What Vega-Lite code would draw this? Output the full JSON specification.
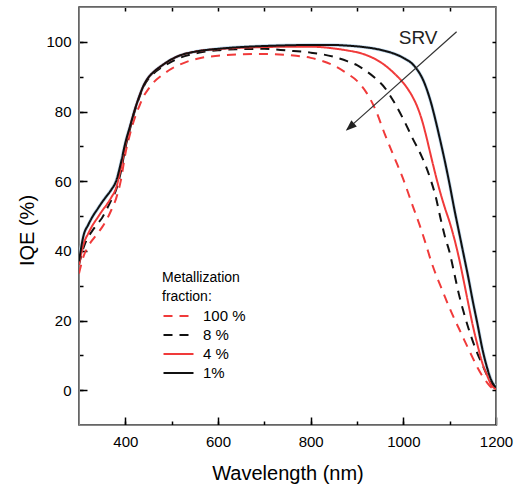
{
  "$schema": "https://vega.github.io/schema/vega-lite/v6.json",
  "width": 417,
  "height": 418,
  "autosize": "none",
  "padding": {"left": 79, "top": 7, "right": 30, "bottom": 60},
  "background": "white",
  "config": {
    "font": "Liberation Sans",
    "view": {"stroke": "#333333", "strokeWidth": 1.5},
    "axis": {"labelFontSize": 15, "labelFlush": false, "labelOverlap": false, "titleFontSize": 20, "titleFontWeight": "normal"}
  },
  "datasets": {
    "iqe": [
      {"m": "100 %", "wl": 300, "iqe": 33.5}, {"m": "100 %", "wl": 310, "iqe": 38.5}, {"m": "100 %", "wl": 320, "iqe": 41.3}, {"m": "100 %", "wl": 330, "iqe": 43.3},
      {"m": "100 %", "wl": 340, "iqe": 45}, {"m": "100 %", "wl": 350, "iqe": 46.8}, {"m": "100 %", "wl": 360, "iqe": 49}, {"m": "100 %", "wl": 370, "iqe": 51.8},
      {"m": "100 %", "wl": 380, "iqe": 55}, {"m": "100 %", "wl": 390, "iqe": 60}, {"m": "100 %", "wl": 400, "iqe": 67.8}, {"m": "100 %", "wl": 410, "iqe": 73.5},
      {"m": "100 %", "wl": 420, "iqe": 78}, {"m": "100 %", "wl": 430, "iqe": 81.5}, {"m": "100 %", "wl": 440, "iqe": 84.5}, {"m": "100 %", "wl": 450, "iqe": 86.5},
      {"m": "100 %", "wl": 460, "iqe": 88.2}, {"m": "100 %", "wl": 480, "iqe": 90.5}, {"m": "100 %", "wl": 500, "iqe": 92.3}, {"m": "100 %", "wl": 520, "iqe": 93.6},
      {"m": "100 %", "wl": 540, "iqe": 94.6}, {"m": "100 %", "wl": 560, "iqe": 95.3}, {"m": "100 %", "wl": 600, "iqe": 96}, {"m": "100 %", "wl": 650, "iqe": 96.4},
      {"m": "100 %", "wl": 700, "iqe": 96.5}, {"m": "100 %", "wl": 750, "iqe": 96.2}, {"m": "100 %", "wl": 800, "iqe": 95.4}, {"m": "100 %", "wl": 850, "iqe": 93.2},
      {"m": "100 %", "wl": 880, "iqe": 90.8}, {"m": "100 %", "wl": 900, "iqe": 88.8}, {"m": "100 %", "wl": 920, "iqe": 85.5}, {"m": "100 %", "wl": 940, "iqe": 80.5},
      {"m": "100 %", "wl": 960, "iqe": 73.5}, {"m": "100 %", "wl": 980, "iqe": 67}, {"m": "100 %", "wl": 1000, "iqe": 60.5}, {"m": "100 %", "wl": 1020, "iqe": 53},
      {"m": "100 %", "wl": 1040, "iqe": 45.5}, {"m": "100 %", "wl": 1050, "iqe": 41.3}, {"m": "100 %", "wl": 1060, "iqe": 37}, {"m": "100 %", "wl": 1070, "iqe": 33.3},
      {"m": "100 %", "wl": 1080, "iqe": 30}, {"m": "100 %", "wl": 1090, "iqe": 26.7}, {"m": "100 %", "wl": 1100, "iqe": 23.5}, {"m": "100 %", "wl": 1110, "iqe": 20.5},
      {"m": "100 %", "wl": 1120, "iqe": 17.7}, {"m": "100 %", "wl": 1130, "iqe": 14.8}, {"m": "100 %", "wl": 1140, "iqe": 12}, {"m": "100 %", "wl": 1150, "iqe": 9.2},
      {"m": "100 %", "wl": 1160, "iqe": 6.5}, {"m": "100 %", "wl": 1170, "iqe": 4.2}, {"m": "100 %", "wl": 1180, "iqe": 2.3}, {"m": "100 %", "wl": 1190, "iqe": 0.8},
      {"m": "100 %", "wl": 1200, "iqe": 0.3},

      {"m": "8 %", "wl": 300, "iqe": 36}, {"m": "8 %", "wl": 310, "iqe": 41}, {"m": "8 %", "wl": 320, "iqe": 44}, {"m": "8 %", "wl": 330, "iqe": 46},
      {"m": "8 %", "wl": 340, "iqe": 47.8}, {"m": "8 %", "wl": 350, "iqe": 49.5}, {"m": "8 %", "wl": 360, "iqe": 52}, {"m": "8 %", "wl": 370, "iqe": 54.6},
      {"m": "8 %", "wl": 380, "iqe": 57.5}, {"m": "8 %", "wl": 390, "iqe": 62.5}, {"m": "8 %", "wl": 400, "iqe": 69.5}, {"m": "8 %", "wl": 410, "iqe": 75},
      {"m": "8 %", "wl": 420, "iqe": 80}, {"m": "8 %", "wl": 430, "iqe": 84}, {"m": "8 %", "wl": 440, "iqe": 87.3}, {"m": "8 %", "wl": 450, "iqe": 89.4},
      {"m": "8 %", "wl": 460, "iqe": 90.8}, {"m": "8 %", "wl": 480, "iqe": 92.8}, {"m": "8 %", "wl": 500, "iqe": 94.3}, {"m": "8 %", "wl": 520, "iqe": 95.5},
      {"m": "8 %", "wl": 540, "iqe": 96.3}, {"m": "8 %", "wl": 560, "iqe": 96.9}, {"m": "8 %", "wl": 600, "iqe": 97.6}, {"m": "8 %", "wl": 650, "iqe": 97.9},
      {"m": "8 %", "wl": 700, "iqe": 98}, {"m": "8 %", "wl": 750, "iqe": 97.5}, {"m": "8 %", "wl": 800, "iqe": 96.9}, {"m": "8 %", "wl": 850, "iqe": 95.7},
      {"m": "8 %", "wl": 880, "iqe": 94.4}, {"m": "8 %", "wl": 900, "iqe": 93.3}, {"m": "8 %", "wl": 920, "iqe": 91.6}, {"m": "8 %", "wl": 940, "iqe": 89.5},
      {"m": "8 %", "wl": 960, "iqe": 86.8}, {"m": "8 %", "wl": 980, "iqe": 82.7}, {"m": "8 %", "wl": 1000, "iqe": 77.8}, {"m": "8 %", "wl": 1020, "iqe": 72.3},
      {"m": "8 %", "wl": 1040, "iqe": 67}, {"m": "8 %", "wl": 1050, "iqe": 63.8}, {"m": "8 %", "wl": 1060, "iqe": 60}, {"m": "8 %", "wl": 1070, "iqe": 55.5},
      {"m": "8 %", "wl": 1080, "iqe": 49.5}, {"m": "8 %", "wl": 1090, "iqe": 44}, {"m": "8 %", "wl": 1100, "iqe": 39.5}, {"m": "8 %", "wl": 1110, "iqe": 33.5},
      {"m": "8 %", "wl": 1120, "iqe": 27.5}, {"m": "8 %", "wl": 1130, "iqe": 22.5}, {"m": "8 %", "wl": 1140, "iqe": 18}, {"m": "8 %", "wl": 1150, "iqe": 14},
      {"m": "8 %", "wl": 1160, "iqe": 10.5}, {"m": "8 %", "wl": 1170, "iqe": 7.5}, {"m": "8 %", "wl": 1180, "iqe": 4.5}, {"m": "8 %", "wl": 1190, "iqe": 1.8},
      {"m": "8 %", "wl": 1200, "iqe": 0.5},

      {"m": "4 %", "wl": 300, "iqe": 36}, {"m": "4 %", "wl": 310, "iqe": 42}, {"m": "4 %", "wl": 320, "iqe": 45}, {"m": "4 %", "wl": 330, "iqe": 47.5},
      {"m": "4 %", "wl": 340, "iqe": 49.5}, {"m": "4 %", "wl": 350, "iqe": 51.5}, {"m": "4 %", "wl": 360, "iqe": 53.3}, {"m": "4 %", "wl": 370, "iqe": 55.4},
      {"m": "4 %", "wl": 380, "iqe": 58}, {"m": "4 %", "wl": 390, "iqe": 63.5}, {"m": "4 %", "wl": 400, "iqe": 70.3}, {"m": "4 %", "wl": 410, "iqe": 75.5},
      {"m": "4 %", "wl": 420, "iqe": 80.3}, {"m": "4 %", "wl": 430, "iqe": 84.3}, {"m": "4 %", "wl": 440, "iqe": 87.6}, {"m": "4 %", "wl": 450, "iqe": 89.8},
      {"m": "4 %", "wl": 460, "iqe": 91.2}, {"m": "4 %", "wl": 480, "iqe": 93.3}, {"m": "4 %", "wl": 500, "iqe": 95}, {"m": "4 %", "wl": 520, "iqe": 96.2},
      {"m": "4 %", "wl": 540, "iqe": 96.9}, {"m": "4 %", "wl": 560, "iqe": 97.4}, {"m": "4 %", "wl": 600, "iqe": 97.9}, {"m": "4 %", "wl": 650, "iqe": 98.3},
      {"m": "4 %", "wl": 700, "iqe": 98.5}, {"m": "4 %", "wl": 750, "iqe": 98.6}, {"m": "4 %", "wl": 800, "iqe": 98.6}, {"m": "4 %", "wl": 850, "iqe": 98.1},
      {"m": "4 %", "wl": 880, "iqe": 97.5}, {"m": "4 %", "wl": 900, "iqe": 97}, {"m": "4 %", "wl": 920, "iqe": 96.2}, {"m": "4 %", "wl": 940, "iqe": 95},
      {"m": "4 %", "wl": 960, "iqe": 93.3}, {"m": "4 %", "wl": 980, "iqe": 91}, {"m": "4 %", "wl": 1000, "iqe": 88.2}, {"m": "4 %", "wl": 1010, "iqe": 86.4},
      {"m": "4 %", "wl": 1020, "iqe": 84.2}, {"m": "4 %", "wl": 1030, "iqe": 81.4}, {"m": "4 %", "wl": 1040, "iqe": 77.6}, {"m": "4 %", "wl": 1050, "iqe": 72.6},
      {"m": "4 %", "wl": 1060, "iqe": 67}, {"m": "4 %", "wl": 1070, "iqe": 61.6},
      {"m": "4 %", "wl": 1080, "iqe": 56.6}, {"m": "4 %", "wl": 1090, "iqe": 52.2}, {"m": "4 %", "wl": 1100, "iqe": 48.2}, {"m": "4 %", "wl": 1110, "iqe": 43.5},
      {"m": "4 %", "wl": 1120, "iqe": 38}, {"m": "4 %", "wl": 1130, "iqe": 31.6}, {"m": "4 %", "wl": 1140, "iqe": 25}, {"m": "4 %", "wl": 1150, "iqe": 18.5},
      {"m": "4 %", "wl": 1160, "iqe": 13}, {"m": "4 %", "wl": 1170, "iqe": 8}, {"m": "4 %", "wl": 1180, "iqe": 4.5}, {"m": "4 %", "wl": 1190, "iqe": 1.5},
      {"m": "4 %", "wl": 1200, "iqe": 0.3},

      {"m": "1%", "wl": 300, "iqe": 37}, {"m": "1%", "wl": 310, "iqe": 44.5}, {"m": "1%", "wl": 320, "iqe": 47.5}, {"m": "1%", "wl": 330, "iqe": 50},
      {"m": "1%", "wl": 340, "iqe": 52}, {"m": "1%", "wl": 350, "iqe": 54}, {"m": "1%", "wl": 360, "iqe": 55.8}, {"m": "1%", "wl": 370, "iqe": 57.6},
      {"m": "1%", "wl": 380, "iqe": 60}, {"m": "1%", "wl": 390, "iqe": 65}, {"m": "1%", "wl": 400, "iqe": 71}, {"m": "1%", "wl": 410, "iqe": 75.7},
      {"m": "1%", "wl": 420, "iqe": 80.3}, {"m": "1%", "wl": 430, "iqe": 84.3}, {"m": "1%", "wl": 440, "iqe": 87.6}, {"m": "1%", "wl": 450, "iqe": 89.8},
      {"m": "1%", "wl": 460, "iqe": 91.2}, {"m": "1%", "wl": 480, "iqe": 93.3}, {"m": "1%", "wl": 500, "iqe": 95}, {"m": "1%", "wl": 520, "iqe": 96.2},
      {"m": "1%", "wl": 540, "iqe": 96.9}, {"m": "1%", "wl": 560, "iqe": 97.4}, {"m": "1%", "wl": 600, "iqe": 98}, {"m": "1%", "wl": 650, "iqe": 98.5},
      {"m": "1%", "wl": 700, "iqe": 98.8}, {"m": "1%", "wl": 750, "iqe": 99}, {"m": "1%", "wl": 800, "iqe": 99.1}, {"m": "1%", "wl": 850, "iqe": 99.1},
      {"m": "1%", "wl": 880, "iqe": 98.9}, {"m": "1%", "wl": 900, "iqe": 98.7}, {"m": "1%", "wl": 920, "iqe": 98.4}, {"m": "1%", "wl": 940, "iqe": 98},
      {"m": "1%", "wl": 960, "iqe": 97.4}, {"m": "1%", "wl": 980, "iqe": 96.6}, {"m": "1%", "wl": 1000, "iqe": 95.4}, {"m": "1%", "wl": 1020, "iqe": 93.6},
      {"m": "1%", "wl": 1030, "iqe": 92}, {"m": "1%", "wl": 1040, "iqe": 89.8}, {"m": "1%", "wl": 1050, "iqe": 86.6}, {"m": "1%", "wl": 1060, "iqe": 82.4},
      {"m": "1%", "wl": 1070, "iqe": 77.2},
      {"m": "1%", "wl": 1080, "iqe": 71.5}, {"m": "1%", "wl": 1090, "iqe": 65.5}, {"m": "1%", "wl": 1100, "iqe": 59}, {"m": "1%", "wl": 1110, "iqe": 52},
      {"m": "1%", "wl": 1120, "iqe": 45.5}, {"m": "1%", "wl": 1130, "iqe": 39}, {"m": "1%", "wl": 1140, "iqe": 32.5}, {"m": "1%", "wl": 1150, "iqe": 25.5},
      {"m": "1%", "wl": 1160, "iqe": 19}, {"m": "1%", "wl": 1170, "iqe": 12.2}, {"m": "1%", "wl": 1180, "iqe": 6.8}, {"m": "1%", "wl": 1190, "iqe": 2.8},
      {"m": "1%", "wl": 1200, "iqe": 0.8}
    ]
  },
  "layer": [
    {
      "description": "light halo under the 1% curve",
      "data": {"name": "iqe"},
      "transform": [{"filter": "datum.m === '1%'"}],
      "mark": {"type": "line", "interpolate": "monotone", "color": "#c3dcf0", "strokeWidth": 3.4, "clip": true},
      "encoding": {
        "x": {"field": "wl", "type": "quantitative", "scale": {"domain": [300, 1200], "nice": false, "zero": false}, "axis": null},
        "y": {"field": "iqe", "type": "quantitative", "scale": {"domain": [-10, 110], "nice": false, "zero": false}, "axis": null}
      }
    },
    {
      "description": "IQE curves, one per metallization fraction; labelled axes with inward major ticks",
      "data": {"name": "iqe"},
      "mark": {"type": "line", "interpolate": "monotone", "strokeWidth": 2, "clip": true},
      "encoding": {
        "x": {
          "field": "wl", "type": "quantitative",
          "scale": {"domain": [300, 1200], "nice": false, "zero": false},
          "axis": {
            "orient": "bottom",
            "title": "Wavelength (nm)",
            "titleY": 54,
            "titleBaseline": "alphabetic",
            "values": [400, 600, 800, 1000, 1200],
            "format": "d",
            "grid": false,
            "ticks": true,
            "tickSize": -8,
            "tickWidth": 1.5,
            "tickColor": "black",
            "labelPadding": 17
          }
        },
        "y": {
          "field": "iqe", "type": "quantitative",
          "scale": {"domain": [-10, 110], "nice": false, "zero": false},
          "axis": {
            "orient": "left",
            "title": "IQE (%)",
            "titleX": -46,
            "titleY": 223,
            "titleBaseline": "alphabetic",
            "values": [0, 20, 40, 60, 80, 100],
            "format": "d",
            "grid": false,
            "ticks": true,
            "tickSize": -8,
            "tickWidth": 1.5,
            "tickColor": "black",
            "labelPadding": 16
          }
        },
        "color": {
          "field": "m", "type": "nominal",
          "scale": {"domain": ["100 %", "8 %", "4 %", "1%"], "range": ["#f03a3a", "#111111", "#f03a3a", "#111111"]},
          "legend": {
            "title": ["Metallization", "fraction:"],
            "orient": "none", "legendX": 83, "legendY": 264, "padding": 0,
            "symbolType": "M-1,0H3", "symbolSize": 225, "symbolStrokeWidth": 2.2,
            "labelFontSize": 15, "labelOffset": 23,
            "titleFontSize": 14, "titleFontWeight": "normal",
            "titleLineHeight": 19, "titlePadding": 3, "rowPadding": 2
          }
        },
        "strokeDash": {
          "field": "m", "type": "nominal",
          "scale": {"domain": ["100 %", "8 %", "4 %", "1%"], "range": [[9, 7], [9, 7], [1, 0], [1, 0]]},
          "legend": {
            "title": ["Metallization", "fraction:"],
            "orient": "none", "legendX": 83, "legendY": 264, "padding": 0,
            "symbolType": "M-1,0H3", "symbolSize": 225, "symbolStrokeWidth": 2.2,
            "labelFontSize": 15, "labelOffset": 23,
            "titleFontSize": 14, "titleFontWeight": "normal",
            "titleLineHeight": 19, "titlePadding": 3, "rowPadding": 2
          }
        }
      }
    },
    {
      "description": "SRV arrow shaft",
      "data": {"values": [{"x": 1115, "y": 102.9, "x2": 878, "y2": 74.8}]},
      "mark": {"type": "rule", "color": "#333333", "strokeWidth": 1.2},
      "encoding": {
        "x": {"field": "x", "type": "quantitative", "scale": {"domain": [300, 1200], "nice": false, "zero": false}, "axis": null},
        "y": {"field": "y", "type": "quantitative", "scale": {"domain": [-10, 110], "nice": false, "zero": false}, "axis": null},
        "x2": {"field": "x2"},
        "y2": {"field": "y2"}
      }
    },
    {
      "description": "SRV arrow head",
      "data": {"values": [{"x": 876, "y": 74.5}]},
      "mark": {"type": "point", "shape": "M0,0L-0.75,2L0.75,2Z", "size": 121, "angle": 228.4, "filled": true, "color": "#222222", "opacity": 1},
      "encoding": {
        "x": {"field": "x", "type": "quantitative", "scale": {"domain": [300, 1200], "nice": false, "zero": false}, "axis": null},
        "y": {"field": "y", "type": "quantitative", "scale": {"domain": [-10, 110], "nice": false, "zero": false}, "axis": null}
      }
    },
    {
      "description": "SRV label; its axes put short grid dashes at every 100 nm and every 10 % along all four frame edges",
      "data": {"values": [{"x": 1032, "y": 101.2, "t": "SRV"}]},
      "mark": {"type": "text", "fontSize": 19, "color": "#222222", "align": "center", "baseline": "middle", "font": "Liberation Sans"},
      "encoding": {
        "x": {
          "field": "x", "type": "quantitative",
          "scale": {"domain": [300, 1200], "nice": false, "zero": false},
          "axis": {
            "orient": "top", "title": null, "labels": false, "ticks": false,
            "values": [400, 500, 600, 700, 800, 900, 1000, 1100],
            "grid": true, "gridColor": "black", "gridWidth": 1.5,
            "gridDash": [4, 410, 4]
          }
        },
        "y": {
          "field": "y", "type": "quantitative",
          "scale": {"domain": [-10, 110], "nice": false, "zero": false},
          "axis": {
            "orient": "right", "title": null, "labels": false, "ticks": false,
            "values": [0, 10, 20, 30, 40, 50, 60, 70, 80, 90, 100],
            "grid": true, "gridColor": "black", "gridWidth": 1.5,
            "gridDash": [4, 409, 4]
          }
        },
        "text": {"field": "t"}
      }
    }
  ],
  "resolve": {"axis": {"x": "independent", "y": "independent"}}
}
